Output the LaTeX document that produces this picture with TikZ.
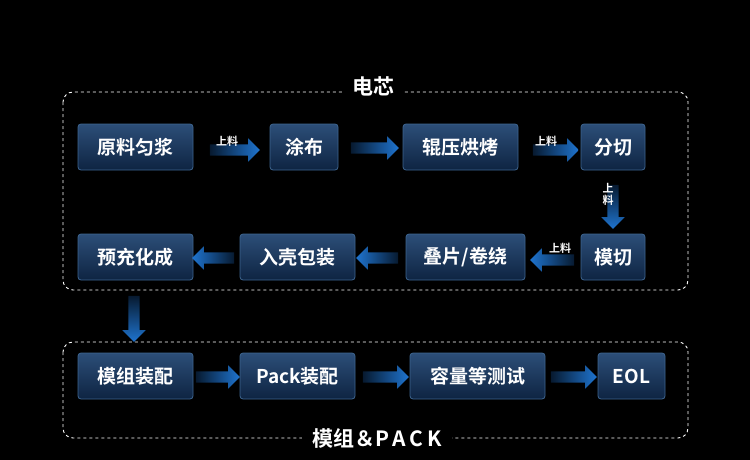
\documentclass[tikz,border=0pt]{standalone}
\usepackage{fontspec}
\setmainfont{Noto Sans CJK SC}
\newfontfamily\bfcjk{Noto Sans CJK SC Bold}
\usetikzlibrary{shapes.arrows}
\definecolor{boxtop}{HTML}{2C4E78}
\definecolor{boxbot}{HTML}{0E2442}
\definecolor{boxedge}{HTML}{3E6590}
\definecolor{arr}{HTML}{1F74CF}
\definecolor{arrdark}{HTML}{071a30}
\tikzset{
 stepbox/.style={draw=boxedge,line width=0.8pt,rounded corners=3pt,top color=boxtop,bottom color=boxbot,text=white,font=\bfcjk\fontsize{19}{19}\selectfont,minimum height=46pt,inner xsep=6pt},
 arrbase/.style={single arrow,single arrow head extend=6pt,single arrow head indent=0pt,minimum height=#1,inner xsep=0pt,inner ysep=5.5pt,draw=none},
 rarr/.style={arrbase=#1,left color=arrdark,right color=arr},
 larr/.style={arrbase=#1,shape border rotate=180,left color=arr,right color=arrdark},
 darr/.style={arrbase=#1,shape border rotate=270,inner xsep=5.5pt,inner ysep=0pt,top color=arrdark,bottom color=arr},
 lbl/.style={text=white,font=\bfcjk\fontsize{11}{11}\selectfont,inner sep=0pt},
 frame/.style={draw=white,dashed,line width=0.9pt,rounded corners=10pt},
 ttl/.style={fill=black,text=white,font=\bfcjk\fontsize{21}{21}\selectfont,inner xsep=10pt},
}
\begin{document}
\begin{tikzpicture}[x=1pt,y=-1pt]
\fill[black] (0,0) rectangle (750,460);
\useasboundingbox (0,0) rectangle (750,460);
\draw[frame] (63,92) rectangle (688,290);
\draw[frame] (63,342) rectangle (688,438);
\node[ttl] (t1) at (373,86) {电芯};
\node[ttl] (t2) at (377,438) {模组＆P\,A\,C\,K};
% row1
\node[stepbox,minimum width=115pt] (a1) at (135.5,147) {原料匀浆};
\node[stepbox,minimum width=68pt] (a2) at (304,147) {涂布};
\node[stepbox,minimum width=115pt] (a3) at (460.5,147) {辊压烘烤};
\node[stepbox,minimum width=64pt] (a4) at (613,147) {分切};
% row2
\node[stepbox,minimum width=64pt] (b1) at (613,257) {模切};
\node[stepbox,minimum width=119pt] (b2) at (465.5,257) {叠片/卷绕};
\node[stepbox,minimum width=115pt] (b3) at (297.5,257) {入壳包装};
\node[stepbox,minimum width=115pt] (b4) at (135.5,257) {预充化成};
% row3
\node[stepbox,minimum width=115pt] (c1) at (135.5,376) {模组装配};
\node[stepbox,minimum width=115pt] (c2) at (297.5,376) {Pack装配};
\node[stepbox,minimum width=135pt] (c3) at (477.5,376) {容量等测试};
\node[stepbox,minimum width=67pt] (c4) at (631.5,376) {EOL};
% arrows row1
\node[rarr=50pt] (r1) at (232,150) {};
\node[lbl] (l1) at (227,141) {上料};
\node[rarr=48pt] (r2) at (372,148) {};
\node[rarr=46pt] (r3) at (553,150) {};
\node[lbl] (l3) at (546,141) {上料};
% down
\node[darr=44pt] (d1) at (613,204) {};
\node[lbl,align=center,font=\bfcjk\fontsize{11}{12}\selectfont] (l4) at (608,194) {上\\料};
% row2
\node[larr=44pt] (r4) at (555,260) {};
\node[lbl] (l5) at (560,248) {上料};
\node[larr=42pt] (r5) at (380,258) {};
\node[larr=42pt] (r6) at (216,258) {};
% down 2
\node[darr=46pt] (d2) at (134,316) {};
% row3
\node[rarr=44pt] (r7) at (215,377) {};
\node[rarr=46pt] (r8) at (383,377) {};
\node[rarr=46pt] (r9) at (571,377) {};
\end{tikzpicture}
\end{document}
